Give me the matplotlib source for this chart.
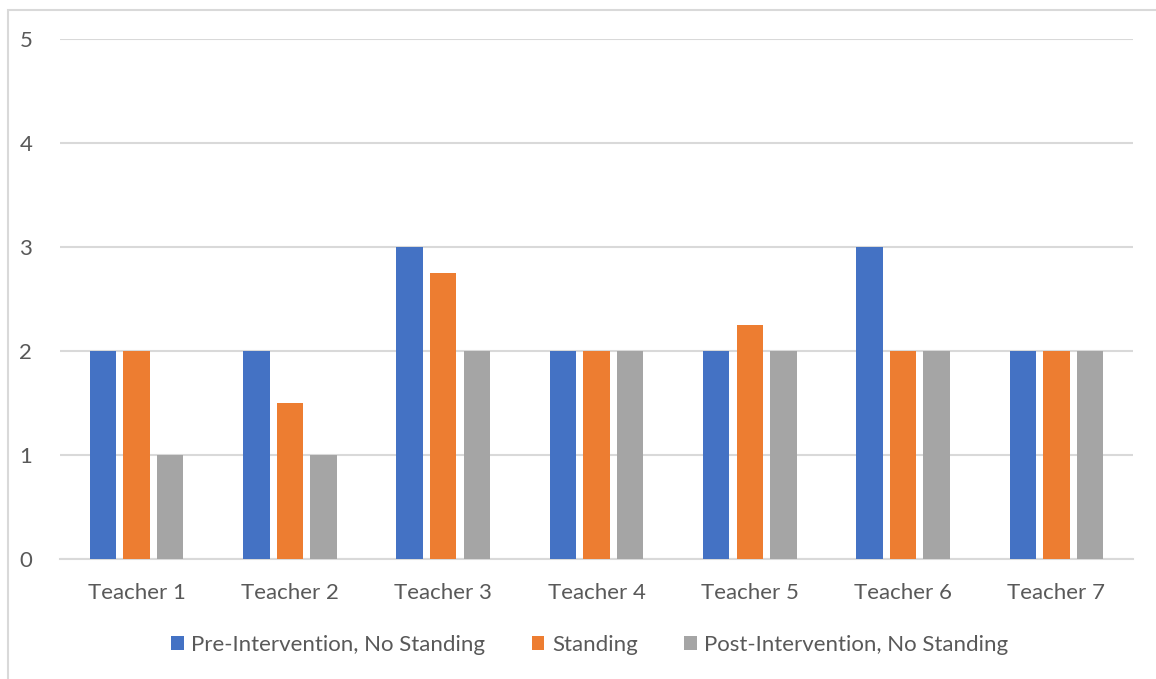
import matplotlib
matplotlib.use("Agg")
import matplotlib.pyplot as plt
from matplotlib.patches import Rectangle
import numpy as np

categories = ["Teacher 1", "Teacher 2", "Teacher 3", "Teacher 4", "Teacher 5", "Teacher 6", "Teacher 7"]
pre_intervention = [2, 2, 3, 2, 2, 3, 2]
standing = [2, 1.5, 2.75, 2, 2.25, 2, 2]
post_intervention = [1, 1, 2, 2, 2, 2, 2]
series_names = ["Pre-Intervention, No Standing", "Standing", "Post-Intervention, No Standing"]
colors = ["#4472C4", "#ED7D31", "#A5A5A5"]
yticks = [0, 1, 2, 3, 4, 5]

plt.rcParams["font.family"] = ["Lato", "DejaVu Sans"]
text_color = "#595959"
fs = 16

W, H = 1156, 679
fig = plt.figure(figsize=(W / 100, H / 100), dpi=100)
ax = fig.add_axes([60 / W, 1 - 559 / H, (1133 - 60) / W, (559 - 39) / H])

x = np.arange(len(categories))
bw = 0.172
step = 0.219
for i, (vals, name, c) in enumerate(zip([pre_intervention, standing, post_intervention], series_names, colors)):
    ax.bar(x + (i - 1) * step, vals, width=bw, color=c, label=name, zorder=3)

ax.set_xlim(-0.5, len(categories) - 0.5)
ax.set_ylim(0, 5)
ax.set_yticks(yticks)
ax.set_xticks(x)
ax.set_xticklabels(categories)
ax.grid(axis="y", color="#D9D9D9", linewidth=1.5, zorder=0)
for s in ["top", "right", "left"]:
    ax.spines[s].set_visible(False)
ax.spines["bottom"].set_color("#D9D9D9")
ax.spines["bottom"].set_linewidth(1.5)
ax.tick_params(axis="both", length=0, colors=text_color, labelsize=fs)
ax.tick_params(axis="y", pad=20)
ax.tick_params(axis="x", pad=17)

leg = fig.legend(loc="center", bbox_to_anchor=(590 / W, 1 - 645 / H), ncol=3, frameon=False,
                 fontsize=fs, handlelength=0.55, handleheight=0.55, handletextpad=0.35, columnspacing=2.1)
for t in leg.get_texts():
    t.set_color(text_color)

# chart frame
fig.patches.append(Rectangle((8 / W, -0.1), 1.2, (1 - 10 / H) + 0.1, transform=fig.transFigure,
                             fill=False, edgecolor="#D9D9D9", linewidth=1.5))

fig.savefig("out.png", dpi=100)
